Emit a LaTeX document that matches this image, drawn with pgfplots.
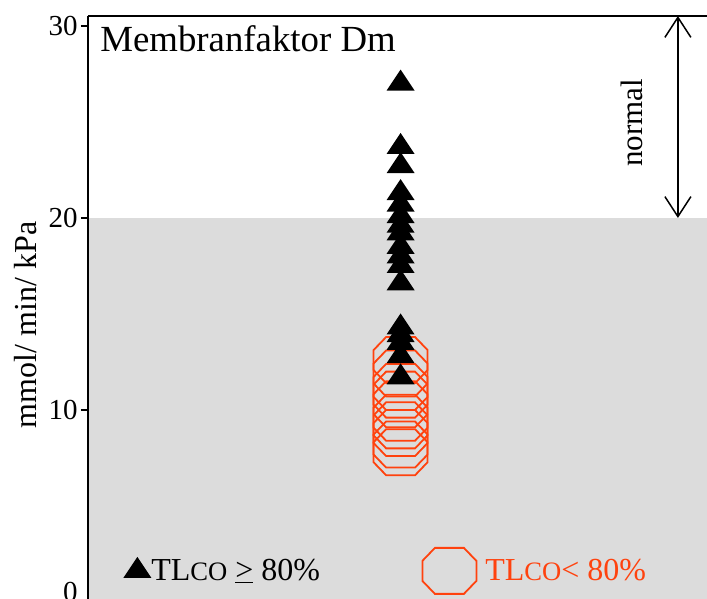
\documentclass[border=0pt]{standalone}
\usepackage{pgfplots}
\pgfplotsset{compat=1.18}
\usepackage{fontspec}
\setmainfont{Liberation Serif}
\usetikzlibrary{arrows.meta}

\definecolor{ocol}{RGB}{255,66,14}
\definecolor{bg}{RGB}{220,220,220}

% filled, slightly flattened triangle (centred on its centroid)
\pgfdeclareplotmark{tri}{%
  \pgfpathmoveto{\pgfqpoint{0pt}{7pt}}%
  \pgfpathlineto{\pgfqpoint{-7pt}{-3.5pt}}%
  \pgfpathlineto{\pgfqpoint{7pt}{-3.5pt}}%
  \pgfpathclose\pgfusepathqfill}
% open octagon
\pgfdeclareplotmark{oct}{%
  \pgfpathmoveto{\pgfqpoint{-7.25pt}{11.5pt}}%
  \pgfpathlineto{\pgfqpoint{7.25pt}{11.5pt}}%
  \pgfpathlineto{\pgfqpoint{13.5pt}{5pt}}%
  \pgfpathlineto{\pgfqpoint{13.5pt}{-5pt}}%
  \pgfpathlineto{\pgfqpoint{7.25pt}{-11.5pt}}%
  \pgfpathlineto{\pgfqpoint{-7.25pt}{-11.5pt}}%
  \pgfpathlineto{\pgfqpoint{-13.5pt}{-5pt}}%
  \pgfpathlineto{\pgfqpoint{-13.5pt}{5pt}}%
  \pgfpathclose\pgfusepathqstroke}

\begin{document}
\begin{tikzpicture}
\begin{axis}[
  width=309.5pt, height=293pt, scale only axis,
  xmin=0, xmax=2, ymin=0, ymax=30.52,
  hide x axis,
  axis y line*=left,
  axis on top=true,
  clip=false,
  y axis line style={line width=0.8pt},
  ytick={0,10,20,30},
  yticklabels={\raisebox{10pt}{0},10,20,30},
  tick align=outside,
  major tick length=3.5pt,
  ytick style={line width=1pt, black},
  yticklabel style={font=\fontsize{14.5pt}{14.5pt}\selectfont, inner sep=1.5pt},
  /pgf/number format/assume math mode=true,
  legend image code/.code={\draw[#1] plot coordinates {(0pt,0pt)};},
  legend style={at={(axis cs:0.1131,1.62)}, anchor=west, draw=none, fill=none,
    inner sep=0pt, column sep=0pt, nodes={inner sep=0pt},
    font=\fontsize{16pt}{18pt}\selectfont},
  legend columns=2,
]
\coordinate (BL) at (rel axis cs:0,0);
\coordinate (TR) at (rel axis cs:1,1);

% reduced range shaded below 20
\addplot[fill=bg, draw=none, forget plot] coordinates {(0,20) (2,20)} \closedcycle;

% TLCO < 80 %
\addplot[only marks, mark=oct, mark options={draw=ocol, line width=0.9pt}, forget plot]
  coordinates {(1.01,12.6) (1.01,11.9) (1.01,11.2) (1.01,10.8) (1.01,10.3)
               (1.01,9.6) (1.01,9.2) (1.01,8.8) (1.01,8.2) (1.01,7.8)};

% TLCO >= 80 %
\addplot[only marks, mark=tri, fill=black, forget plot]
  coordinates {(1.01,27.0) (1.01,23.7) (1.01,22.7) (1.01,21.3) (1.01,20.7)
               (1.01,20.1) (1.01,19.6) (1.01,19.2) (1.01,18.5) (1.01,18.0)
               (1.01,17.5) (1.01,16.6) (1.01,14.3) (1.01,13.9) (1.01,13.5)
               (1.01,12.8) (1.01,11.7)};

\addlegendimage{only marks, mark=tri, fill=black}
\addlegendentry{\makebox[135.5pt][l]{TL{\fontsize{13.3pt}{12pt}\selectfont CO} \underline{>} 80\%}}
\addlegendimage{only marks, mark=oct, mark options={draw=ocol, line width=0.9pt}}
\addlegendentry{\hspace{4.5pt}\textcolor{ocol}{TL{\fontsize{13.3pt}{12pt}\selectfont CO}< 80\%}}

% top border
\draw[line width=0.6pt] (rel axis cs:0,1) -- (rel axis cs:1,1);

% title
\node[anchor=base west, font=\fontsize{18.4pt}{20pt}\selectfont, inner sep=0pt]
  at ([xshift=6pt,yshift=-18pt]rel axis cs:0,1) {Membranfaktor Dm};

% normal range arrow
\draw[{Straight Barb[length=10pt,width=13pt]}-{Straight Barb[length=10pt,width=13pt]}, line width=0.75pt]
  (axis cs:1.906,20) -- (axis cs:1.906,30.52);
\node[rotate=90, anchor=base, inner sep=0pt, font=\fontsize{15.5pt}{16pt}\selectfont]
  at (axis cs:1.793,24.95) {normal};

% y-axis unit
\node[rotate=90, anchor=base, inner sep=0pt, font=\fontsize{16pt}{16pt}\selectfont]
  at ([xshift=-25.5pt]axis cs:0,14.43) {mmol/ min/ kPa};
\end{axis}
\pgfresetboundingbox
\path[use as bounding box] ([xshift=-44pt,yshift=1.5pt]BL) rectangle ([yshift=8pt]TR);
\end{tikzpicture}
\end{document}
